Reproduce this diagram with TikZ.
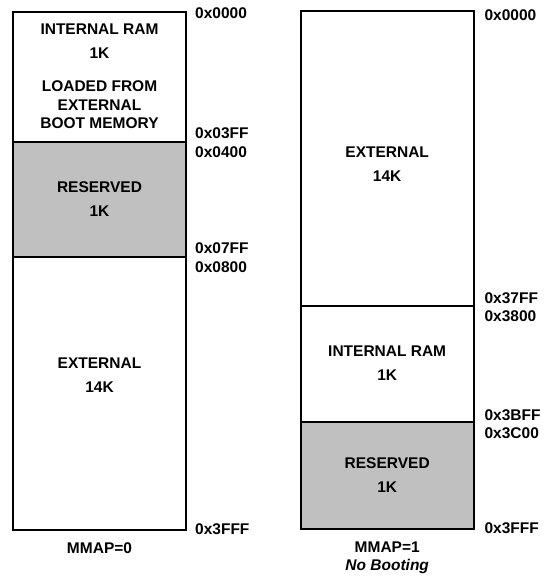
\documentclass[tikz,border=0pt]{standalone}
\usepackage{fontspec}
\setmainfont{Liberation Sans}
\usetikzlibrary{positioning}
\definecolor{resgray}{RGB}{192,192,192}

\begin{document}
\begin{tikzpicture}[
    x=1pt, y=-1pt,
    node distance=0pt,
    seg/.style={draw=black, line width=2pt, minimum width=173pt,
                inner sep=0pt, outer sep=0pt},
    resseg/.style={seg, fill=resgray},
    txt/.style={font=\fontsize{15.5}{18.5}\selectfont\bfseries,
                align=center, inner sep=0pt},
    addr/.style={txt, anchor=west}
  ]
  \useasboundingbox (0,0) rectangle (552,579);

  % MMAP=0
  \node[seg, minimum height=130pt, anchor=north west] (iram0) at (13,11.7) {};
  \node[resseg, minimum height=115pt, below=of iram0] (res0) {};
  \node[seg, minimum height=273.3pt, below=of res0] (ext0) {};

  \node[txt] (iram0-t) at (iram0) {INTERNAL RAM\\[5.5pt]1K\\[14.5pt]LOADED FROM\\EXTERNAL\\BOOT MEMORY};
  \node[txt] (res0-t) at (res0) {RESERVED\\[5.5pt]1K};
  \node[txt, yshift=18pt] (ext0-t) at (ext0) {EXTERNAL\\[5.5pt]14K};

  \node[addr] (a0000l) at ([xshift=9pt,yshift=-1.3pt]iram0.north east) {0x0000};
  \node[addr] (a03ff) at ([xshift=9pt,yshift=8.7pt]iram0.south east) {0x03FF};
  \node[addr] (a0400) at ([xshift=9pt,yshift=-10.3pt]iram0.south east) {0x0400};
  \node[addr] (a07ff) at ([xshift=9pt,yshift=8.7pt]res0.south east) {0x07FF};
  \node[addr] (a0800) at ([xshift=9pt,yshift=-10.3pt]res0.south east) {0x0800};
  \node[addr] (a3fffl) at ([xshift=9pt,yshift=1pt]ext0.south east) {0x3FFF};

  \node[txt, below=12.5pt of ext0] (cap0) {MMAP=0};

  % MMAP=1
  \node[seg, minimum height=295pt, anchor=north west] (ext1) at (300.7,10.5) {};
  \node[seg, minimum height=116pt, below=of ext1] (iram1) {};
  \node[resseg, minimum height=107.6pt, below=of iram1] (res1) {};

  \node[txt, yshift=-6.5pt] (ext1-t) at (ext1) {EXTERNAL\\[5.5pt]14K};
  \node[txt] (iram1-t) at (iram1) {INTERNAL RAM\\[5.5pt]1K};
  \node[txt] (res1-t) at (res1) {RESERVED\\[5.5pt]1K};

  \node[addr] (a0000r) at ([xshift=10.7pt,yshift=-4.5pt]ext1.north east) {0x0000};
  \node[addr] (a37ff) at ([xshift=10.7pt,yshift=7.7pt]ext1.south east) {0x37FF};
  \node[addr] (a3800) at ([xshift=10.7pt,yshift=-10.3pt]ext1.south east) {0x3800};
  \node[addr] (a3bff) at ([xshift=10.7pt,yshift=6.7pt]iram1.south east) {0x3BFF};
  \node[addr] (a3c00) at ([xshift=10.7pt,yshift=-11.3pt]iram1.south east) {0x3C00};
  \node[addr] (a3fffr) at ([xshift=10.7pt,yshift=1.3pt]res1.south east) {0x3FFF};

  \node[txt, below=12.5pt of res1] (cap1) {MMAP=1\\\textit{No Booting}};
\end{tikzpicture}
\end{document}
